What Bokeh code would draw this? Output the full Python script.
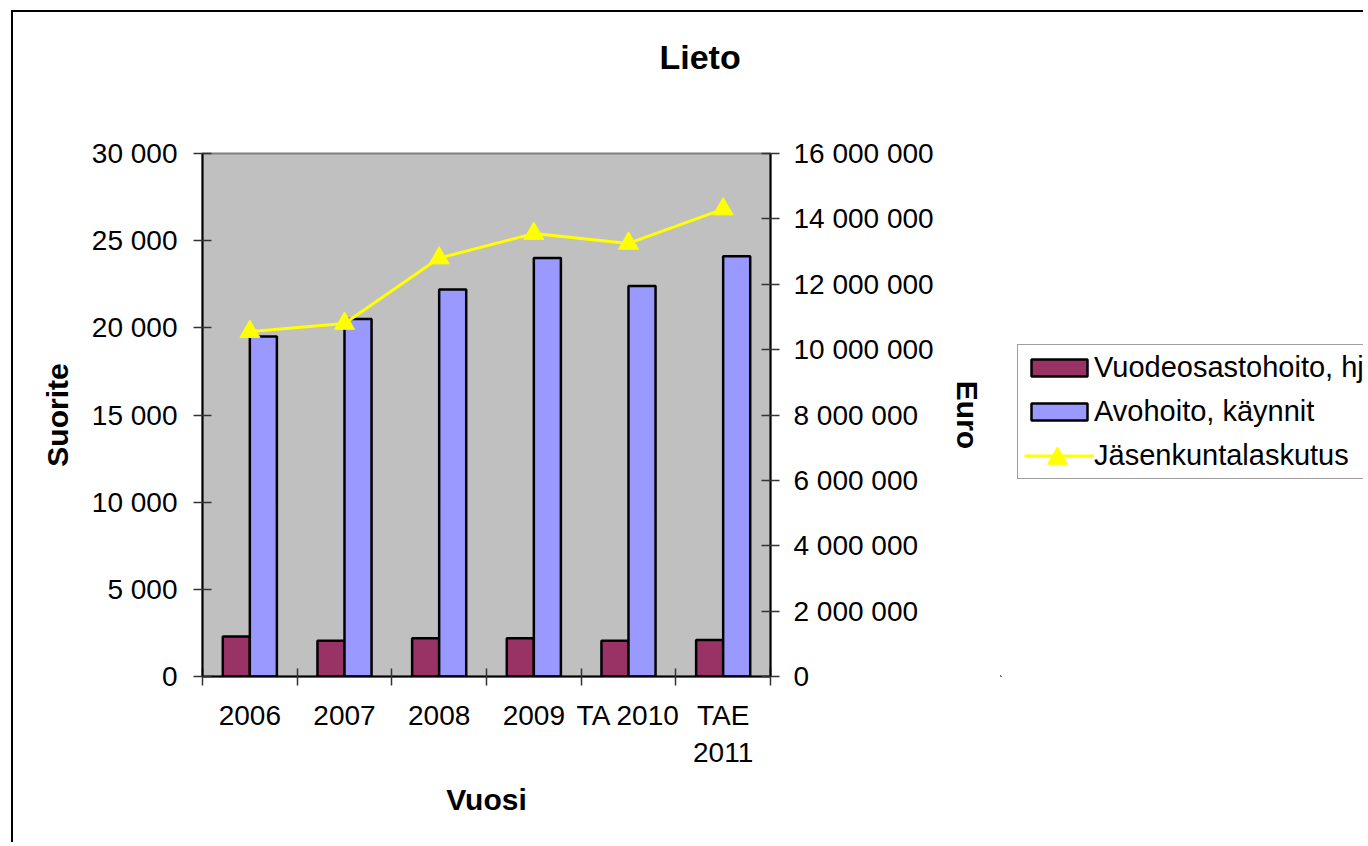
from bokeh.plotting import figure
from bokeh.layouts import row
from bokeh.models import (Range1d, LinearAxis, FixedTicker, CustomJSTickFormatter,
                          Legend, LegendItem, Title)
from bokeh.embed import file_html
from bokeh.resources import INLINE

# ---- data ----
years = ["2006", "2007", "2008", "2009", "TA 2010", "TAE\n2011"]
vuodeosasto = [2300, 2050, 2200, 2200, 2050, 2100]
avohoito = [19500, 20500, 22200, 24000, 22400, 24100]
laskutus = [10550000, 10800000, 12800000, 13550000, 13250000, 14300000]
left_ticks = [0, 5000, 10000, 15000, 20000, 25000, 30000]
right_ticks = [0, 2000000, 4000000, 6000000, 8000000, 10000000, 12000000, 14000000, 16000000]
series_names = ["Vuodeosastohoito, hj", "Avohoito, käynnit", "Jäsenkuntalaskutus"]

FONT = "Liberation Sans"
BAR_W = 1.0 / 3.5
C_VUODE = "#993366"
C_AVO = "#9999FF"
C_LASK = "#FFFF00"

idx = list(range(len(years)))
x_left = [i + 0.5 - BAR_W / 2 for i in idx]
x_right = [i + 0.5 + BAR_W / 2 for i in idx]
x_mid = [i + 0.5 for i in idx]

p = figure(width=987, height=830, output_backend="svg", toolbar_location=None,
           x_range=Range1d(0, len(years)), y_range=Range1d(0, 30000),
           min_border_left=189, min_border_right=230, min_border_top=141,
           min_border_bottom=166)
p.extra_y_ranges = {"euro": Range1d(0, 16000000)}
p.background_fill_color = "#C0C0C0"
p.border_fill_color = "white"
p.outline_line_color = "#808080"
p.outline_line_width = 2
p.xgrid.visible = False
p.ygrid.visible = False

fmt = CustomJSTickFormatter(code="return Math.round(tick).toString().replace(/\\B(?=(\\d{3})+(?!\\d))/g, ' ');")

# left axis
ya = p.yaxis[0]
ya.ticker = FixedTicker(ticks=left_ticks, minor_ticks=[])
ya.formatter = fmt
ya.major_tick_in = 9
ya.major_tick_out = 9
ya.major_tick_line_color = "#333333"
ya.major_tick_line_width = 1.5
ya.minor_tick_line_color = None
ya.axis_line_color = "#000000"
ya.axis_line_width = 2
ya.major_label_standoff = 16
ya.major_label_text_font = FONT
ya.major_label_text_font_size = "28px"
ya.major_label_text_color = "#000000"
ya.axis_label = "Suorite"
ya.axis_label_text_font = FONT
ya.axis_label_text_font_style = "bold"
ya.axis_label_text_font_size = "30px"
ya.axis_label_text_color = "#000000"
ya.axis_label_standoff = 15

# right axis (values)
ra = LinearAxis(y_range_name="euro")
ra.ticker = FixedTicker(ticks=right_ticks, minor_ticks=[])
ra.formatter = fmt
ra.major_tick_in = 9
ra.major_tick_out = 9
ra.major_tick_line_color = "#333333"
ra.major_tick_line_width = 1.5
ra.minor_tick_line_color = None
ra.axis_line_color = "#000000"
ra.axis_line_width = 2
ra.major_label_standoff = 14
ra.major_label_text_font = FONT
ra.major_label_text_font_size = "28px"
ra.major_label_text_color = "#000000"
p.add_layout(ra, "right")

# right axis title "Euro" (reads bottom to top)
ea = LinearAxis(y_range_name="euro")
ea.ticker = FixedTicker(ticks=[right_ticks[4]], minor_ticks=[])
ea.formatter = CustomJSTickFormatter(code="return 'Euro';")
ea.major_tick_in = 0
ea.major_tick_out = 0
ea.minor_tick_line_color = None
ea.axis_line_color = None
ea.major_label_orientation = "vertical"
ea.major_label_standoff = 14
ea.major_label_text_font = FONT
ea.major_label_text_font_style = "bold"
ea.major_label_text_font_size = "30px"
ea.major_label_text_color = "#000000"
p.add_layout(ea, "right")

# bottom axis
xa = p.xaxis[0]
xa.ticker = FixedTicker(ticks=x_mid, minor_ticks=[float(i) for i in range(len(years) + 1)])
xa.formatter = CustomJSTickFormatter(args={"labels": years},
                                     code="return labels[Math.floor(tick)];")
xa.major_tick_in = 0
xa.major_tick_out = 0
xa.minor_tick_in = 8
xa.minor_tick_out = 9
xa.minor_tick_line_color = "#333333"
xa.minor_tick_line_width = 1.5
xa.axis_line_color = "#000000"
xa.axis_line_width = 2
xa.major_label_standoff = 14
xa.major_label_text_font = FONT
xa.major_label_text_font_size = "28px"
xa.major_label_text_color = "#000000"
xa.major_label_text_line_height = 1.2
xa.axis_label = "Vuosi"
xa.axis_label_text_font = FONT
xa.axis_label_text_font_style = "bold"
xa.axis_label_text_font_size = "30px"
xa.axis_label_text_color = "#000000"
xa.axis_label_standoff = 12

# glyphs
p.vbar(x=x_left, top=vuodeosasto, width=BAR_W, bottom=0,
       fill_color=C_VUODE, line_color="#000000", line_width=2.5)
p.vbar(x=x_right, top=avohoito, width=BAR_W, bottom=0,
       fill_color=C_AVO, line_color="#000000", line_width=2.5)
p.line(x=x_mid, y=laskutus, y_range_name="euro", line_color=C_LASK, line_width=3)
p.scatter(x=x_mid, y=laskutus, y_range_name="euro", marker="triangle", size=20,
          fill_color=C_LASK, line_color=C_LASK)

# title
title = Title(text="Lieto\n\n", align="left", offset=457, vertical_align="bottom",
              text_font=FONT, text_font_style="bold", text_font_size="34px",
              text_color="#000000", text_line_height=0.95)
p.add_layout(title, "above")

# ---- legend panel (separate canvas to the right) ----
q = figure(width=363, height=830, output_backend="svg", toolbar_location=None,
           x_range=Range1d(0, 1), y_range=Range1d(0, 1),
           x_axis_location=None, y_axis_location=None, min_border=0)
q.outline_line_color = None
q.background_fill_color = "white"
q.border_fill_color = "white"
q.grid.visible = False

# legend swatch renderers (kept outside the visible range)
lb1 = q.vbar(x=[-50], top=[-50], width=0.1, bottom=-51,
             fill_color=C_VUODE, line_color="#000000", line_width=2.5)
lb2 = q.vbar(x=[-50], top=[-50], width=0.1, bottom=-51,
             fill_color=C_AVO, line_color="#000000", line_width=2.5)
ll = q.line(x=[-50], y=[-50], line_color=C_LASK, line_width=3)
lm = q.scatter(x=[-50], y=[-50], marker="triangle", fill_color=C_LASK, line_color=C_LASK)

legend = Legend(items=[
    LegendItem(label=series_names[0], renderers=[lb1]),
    LegendItem(label=series_names[1], renderers=[lb2]),
    LegendItem(label=series_names[2], renderers=[ll]),
], location=(17, 197))
legend.label_text_font = FONT
legend.label_text_font_size = "29px"
legend.label_text_color = "#000000"
legend.glyph_width = 70
legend.glyph_height = 21
legend.label_height = 30
legend.label_standoff = 0
legend.spacing = 11
legend.padding = 6
legend.margin = 0
legend.border_line_color = "#404040"
legend.border_line_width = 1.5
legend.background_fill_color = "white"
legend.background_fill_alpha = 1.0
q.add_layout(legend, "center")

legend2 = Legend(items=[LegendItem(label=" ", renderers=[lm])], location=(32, 193))
legend2.glyph_width = 50
legend2.glyph_height = 50
legend2.label_height = 0
legend2.label_width = 0
legend2.label_standoff = 0
legend2.label_text_font_size = "10px"
legend2.padding = 0
legend2.margin = 0
legend2.spacing = 0
legend2.border_line_color = None
legend2.background_fill_alpha = 0.0
q.add_layout(legend2, "center")

layout = row(p, q)
layout.styles = {"position": "relative", "left": "11px", "top": "10px",
                 "border-left": "2px solid #000000", "border-top": "2px solid #000000"}

open("out.html", "w").write(file_html(layout, INLINE))
